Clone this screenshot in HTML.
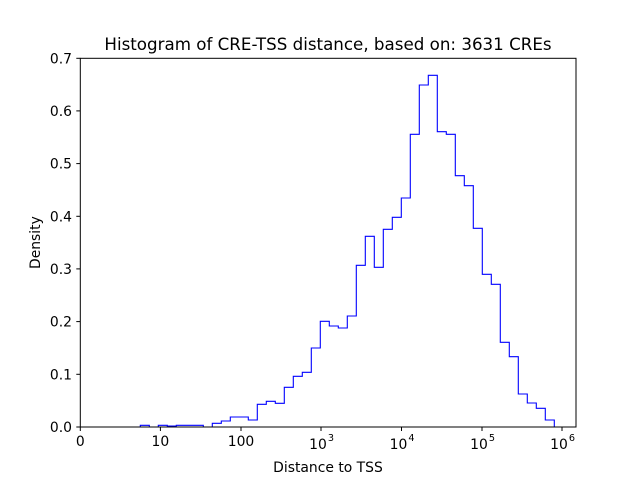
<!DOCTYPE html>
<html><head><meta charset="utf-8"><style>
html,body{margin:0;padding:0;background:#fff;}
svg{display:block;font-family:"DejaVu Sans","Liberation Sans",sans-serif;}
</style></head><body>
<svg id="s" width="640" height="480" viewBox="0 0 640 480" xmlns="http://www.w3.org/2000/svg">
<rect width="640" height="480" fill="#fff"/>
<path id="h" fill="none" stroke="#0000ff" stroke-width="1.1" stroke-linejoin="miter"/>
<rect x="80.3" y="58.3" width="495.7" height="368.7" fill="none" stroke="#000" stroke-width="1"/>
<g stroke="#000" stroke-width="1">
<line x1="80.3" y1="427" x2="80.3" y2="431"/>
<line x1="160.4" y1="427" x2="160.4" y2="431"/>
<line x1="241" y1="427" x2="241" y2="431"/>
<line x1="321" y1="427" x2="321" y2="431"/>
<line x1="401.5" y1="427" x2="401.5" y2="431"/>
<line x1="482" y1="427" x2="482" y2="431"/>
<line x1="562" y1="427" x2="562" y2="431"/>
<line x1="76.3" y1="427" x2="80.3" y2="427"/>
<line x1="76.3" y1="374.3" x2="80.3" y2="374.3"/>
<line x1="76.3" y1="321.6" x2="80.3" y2="321.6"/>
<line x1="76.3" y1="268.9" x2="80.3" y2="268.9"/>
<line x1="76.3" y1="216.3" x2="80.3" y2="216.3"/>
<line x1="76.3" y1="163.6" x2="80.3" y2="163.6"/>
<line x1="76.3" y1="110.9" x2="80.3" y2="110.9"/>
<line x1="76.3" y1="58.3" x2="80.3" y2="58.3"/>
</g>
<g font-size="13.9" text-anchor="end" fill="#000">
<text x="72" y="432">0.0</text>
<text x="72" y="379.3">0.1</text>
<text x="72" y="326.6">0.2</text>
<text x="72" y="273.9">0.3</text>
<text x="72" y="221.3">0.4</text>
<text x="72" y="168.6">0.5</text>
<text x="72" y="115.9">0.6</text>
<text x="72" y="63.3">0.7</text>
</g>
<g font-size="13.9" text-anchor="middle" fill="#000">
<text x="80.3" y="446">0</text>
<text x="160.4" y="446">10</text>
<text x="241" y="446">100</text>
<text x="318" y="449">10</text><text x="331" y="441" font-size="9.7">3</text>
<text x="398.5" y="449">10</text><text x="411.5" y="441" font-size="9.7">4</text>
<text x="479" y="449">10</text><text x="492" y="441" font-size="9.7">5</text>
<text x="559" y="449">10</text><text x="572" y="441" font-size="9.7">6</text>
<text x="328" y="472">Distance to TSS</text>
<text x="328" y="50" font-size="16.7">Histogram of CRE-TSS distance, based on: 3631 CREs</text>
</g>
<text transform="translate(40,242.6) rotate(-90)" font-size="13.9" text-anchor="middle">Density</text>
</svg>
<script>
var ys=[427,427,427,427,425.3,427,425.3,426,425.3,425.3,425.3,427,423.3,421,417,417,420,404.3,401.3,403.3,387.3,376.3,372.3,348,321.3,326,328,316,265.3,236.3,267.3,229.3,217.3,198,134.3,85,75.3,131.7,134.3,175.7,185.7,228.3,274.3,284.3,342.3,356.7,394,403,408.3,420];
var d="M104.3 427";
for(var k=0;k<ys.length;k++){var x0=104.3+9*k,x1=x0+9;d+=" L"+x0.toFixed(1)+" "+ys[k]+" L"+x1.toFixed(1)+" "+ys[k];}
d+=" L554.3 427";
document.getElementById("h").setAttribute("d",d);
</script>
</body></html>
